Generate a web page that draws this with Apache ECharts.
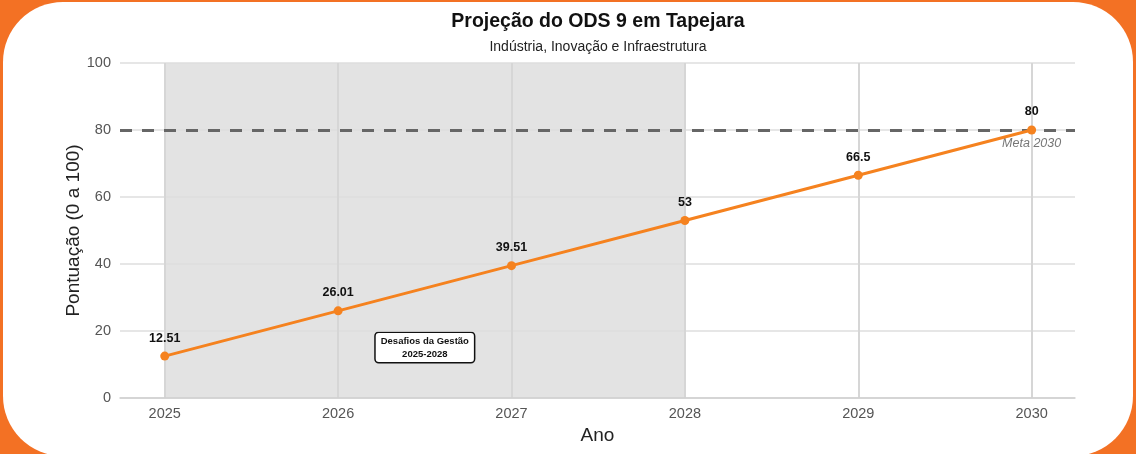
<!DOCTYPE html>
<html>
<head>
<meta charset="utf-8">
<script src="https://cdn.jsdelivr.net/npm/echarts@6/dist/echarts.min.js"></script>
<style>
  html, body { margin: 0; padding: 0; width: 1136px; height: 454px; overflow: hidden; background: #F37124; }
  #card { position: absolute; left: 3px; top: 2px; width: 1130px; height: 454px; background: #fff; border-radius: 60px; }
  #chart { position: absolute; left: 0; top: 0; width: 1136px; height: 454px; }
</style>
</head>
<body>
<div id="card"></div>
<div id="chart"></div>
<script>
// Projected ODS 9 score per year
const years = [2025, 2026, 2027, 2028, 2029, 2030];
const scores = [12.51, 26.01, 39.51, 53, 66.5, 80];
const yTicks = [0, 20, 40, 60, 80, 100];
const target = 80;
const mandate = [2025, 2028];

const orange = '#F5821F';
const font = '"Liberation Sans", Arial, sans-serif';

const chart = echarts.init(document.getElementById('chart'), null, { renderer: 'canvas' });

chart.setOption({
  backgroundColor: 'transparent',
  animation: false,
  title: {
    text: 'Projeção do ODS 9 em Tapejara',
    subtext: 'Indústria, Inovação e Infraestrutura',
    left: 593,
    textAlign: 'center',
    top: 7,
    itemGap: 8,
    textStyle: { fontFamily: font, fontSize: 19.5, fontWeight: 'bold', color: '#111' },
    subtextStyle: { fontFamily: font, fontSize: 14, color: '#222' }
  },
  grid: { left: 120, right: 61, top: 63, bottom: 56 },
  xAxis: {
    type: 'value',
    min: 2024.742,
    max: 2030.25,
    name: 'Ano',
    nameLocation: 'middle',
    nameGap: 28,
    nameMoveOverlap: false,
    nameTextStyle: { fontFamily: font, fontSize: 19, color: '#222' },
    axisLine: { show: true, lineStyle: { color: '#d0d0d0', width: 1.5 } },
    axisTick: { show: false, customValues: years },
    axisLabel: { customValues: years, color: '#555', fontSize: 14.5, fontFamily: font, margin: 8,
                 formatter: v => String(v) },
    splitLine: { show: true, lineStyle: { color: '#d6d6d6', width: 2 } }
  },
  yAxis: {
    type: 'value',
    min: 0,
    max: 100,
    interval: 20,
    name: 'Pontuação (0 a 100)',
    nameLocation: 'middle',
    nameGap: 37,
    nameMoveOverlap: false,
    nameTextStyle: { fontFamily: font, fontSize: 19, color: '#222' },
    axisLine: { show: false },
    axisTick: { show: false },
    axisLabel: { color: '#555', fontSize: 14.5, fontFamily: font, margin: 9 },
    splitLine: { lineStyle: { color: '#dedede', width: 1.5 } }
  },
  series: [
    {
      type: 'line',
      data: years.map((y, i) => [y, scores[i]]),
      symbol: 'circle',
      symbolSize: 9,
      z: 5,
      lineStyle: { color: orange, width: 3 },
      itemStyle: { color: orange },
      label: {
        show: true,
        position: 'top',
        distance: 7,
        fontFamily: font,
        fontSize: 12.5,
        fontWeight: 'bold',
        color: '#111',
        formatter: p => String(p.value[1])
      },
      markArea: {
        silent: true,
        z: -1,
        itemStyle: { color: '#e3e3e3' },
        label: {
          show: true,
          position: 'insideBottom',
          distance: 36,
          formatter: 'Desafios da Gestão\n2025-2028',
          fontFamily: font,
          fontSize: 9.5,
          fontWeight: 'bold',
          lineHeight: 13,
          color: '#111',
          backgroundColor: '#fff',
          borderColor: '#111',
          borderWidth: 1.5,
          borderRadius: 3,
          padding: [2, 5, 1, 5]
        },
        data: [[{ xAxis: mandate[0] }, { xAxis: mandate[1] }]]
      },
      markLine: {
        silent: true,
        symbol: 'none',
        lineStyle: { color: '#666', width: 3, type: [12, 10] },
        label: { show: false },
        data: [{ yAxis: target }]
      },
      markPoint: {
        silent: true,
        symbol: 'circle',
        symbolSize: 0,
        label: {
          show: true,
          formatter: 'Meta 2030',
          offset: [0, 14],
          fontFamily: font,
          fontSize: 12.5,
          fontStyle: 'italic',
          color: '#777'
        },
        data: [{ coord: [years[years.length - 1], target] }]
      }
    }
  ]
});
</script>
</body>
</html>
